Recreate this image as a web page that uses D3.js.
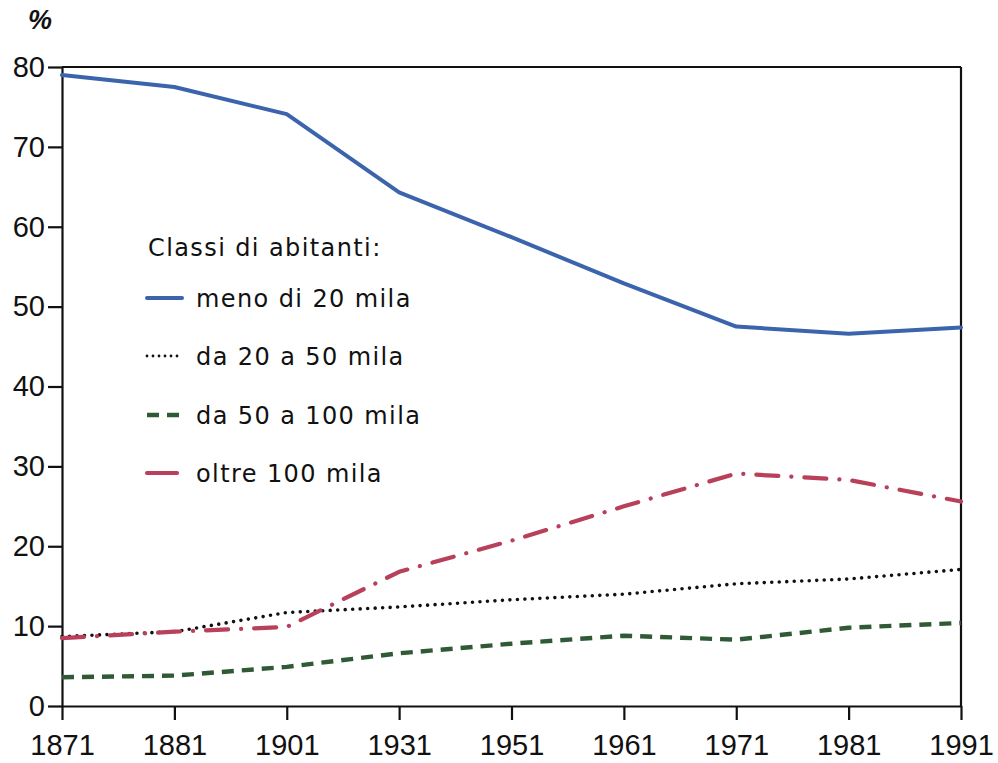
<!DOCTYPE html>
<html><head><meta charset="utf-8">
<script src="https://cdn.jsdelivr.net/npm/d3@7"></script>
<style>
body{margin:0;background:#fff;}
svg{display:block;}
</style></head>
<body>
<svg id="chart" width="998" height="763"></svg>
<script>
const years = ["1871","1881","1901","1931","1951","1961","1971","1981","1991"];
const meno20 = [79.0, 77.5, 74.1, 64.3, 58.7, 52.9, 47.5, 46.6, 47.4];
const da20a50 = [8.7, 9.3, 11.7, 12.4, 13.3, 14.0, 15.3, 15.9, 17.1];
const da50a100 = [3.6, 3.8, 4.9, 6.6, 7.8, 8.8, 8.3, 9.8, 10.4];
const oltre100 = [8.5, 9.3, 9.9, 16.8, 20.7, 25.0, 29.1, 28.3, 25.6];
const yTicks = [0,10,20,30,40,50,60,70,80];
const legendTitle = "Classi di abitanti:";
const seriesNames = ["meno di 20 mila","da 20 a 50 mila","da 50 a 100 mila","oltre 100 mila"];

const svg = d3.select("#chart");
const mLeft = 62, mRight = 961, mTop = 67, mBottom = 706;
const x = d3.scalePoint().domain(years).range([mLeft, mRight]);
const y = d3.scaleLinear().domain([0,80]).range([mBottom, mTop]);

const styles = [
  {color:"#3b64ad", width:4, dash:null, cap:"round"},
  {color:"#111", width:3.6, dash:"0,7.5", cap:"round"},
  {color:"#2f5a35", width:4.4, dash:"12,8", cap:"butt"},
  {color:"#b8405a", width:4.2, dash:"22,13,0.1,13", cap:"round"}
];
const data = [meno20, da20a50, da50a100, oltre100];

// frame
svg.append("line").attr("x1",mLeft).attr("x2",mRight).attr("y1",y(80)).attr("y2",y(80)).attr("stroke","#111").attr("stroke-width",2.2);
svg.append("line").attr("x1",mRight).attr("x2",mRight).attr("y1",y(80)).attr("y2",y(0)).attr("stroke","#111").attr("stroke-width",2.2);

const tickFont = "Liberation Sans, Arial, sans-serif";
const yAxis = d3.axisLeft(y).tickValues(yTicks).tickSize(14).tickPadding(3).tickSizeOuter(0);
const gy = svg.append("g").attr("transform",`translate(${mLeft},0)`).call(yAxis);
gy.select(".domain").attr("stroke","#111").attr("stroke-width",2.2);
gy.selectAll(".tick line").attr("stroke","#111").attr("stroke-width",2.2);
gy.selectAll(".tick text").attr("font-family",tickFont).attr("font-size",29).attr("fill","#111");

const xAxis = d3.axisBottom(x).tickSize(14).tickPadding(14).tickSizeOuter(0);
const gx = svg.append("g").attr("transform",`translate(0,${mBottom})`).call(xAxis);
gx.select(".domain").attr("stroke","#111").attr("stroke-width",2.2);
gx.selectAll(".tick line").attr("stroke","#111").attr("stroke-width",2.2);
gx.selectAll(".tick text").attr("font-family",tickFont).attr("font-size",29).attr("fill","#111");

svg.append("text").attr("x",28).attr("y",29).text("%")
  .attr("font-family",tickFont).attr("font-weight","bold").attr("font-style","italic")
  .attr("font-size",27).attr("fill","#111");

const line = d3.line().x((d,i)=>x(years[i])).y(d=>y(d));
data.forEach((vals,k)=>{
  const s = styles[k];
  const p = svg.append("path").attr("d",line(vals)).attr("fill","none")
    .attr("stroke",s.color).attr("stroke-width",s.width).attr("stroke-linecap",s.cap).attr("stroke-linejoin","round");
  if (s.dash) p.attr("stroke-dasharray",s.dash);
});

// legend
const legFont = "DejaVu Sans, sans-serif";
const lg = svg.append("g");
lg.append("text").attr("x",148).attr("y",256).text(legendTitle)
  .attr("font-family",legFont).attr("font-size",24).attr("letter-spacing",1.4).attr("fill","#111");
const rowY = [298, 356, 415, 473];
seriesNames.forEach((name,k)=>{
  const s = styles[k];
  const l = lg.append("line").attr("x1",147).attr("x2", k===3 ? 186 : 182).attr("y1",rowY[k]).attr("y2",rowY[k])
    .attr("stroke",s.color).attr("stroke-width",s.width).attr("stroke-linecap",s.cap);
  if (k===1) l.attr("stroke-dasharray","0,6").attr("stroke-width",2.8);
  else if (k===3) l.attr("stroke-dasharray","30,10,0.1,10");
  else if (s.dash) l.attr("stroke-dasharray",s.dash);
  lg.append("text").attr("x",196).attr("y",rowY[k]+9).text(name)
    .attr("font-family",legFont).attr("font-size",24).attr("letter-spacing",1.4).attr("fill","#111");
});
</script>
</body></html>
